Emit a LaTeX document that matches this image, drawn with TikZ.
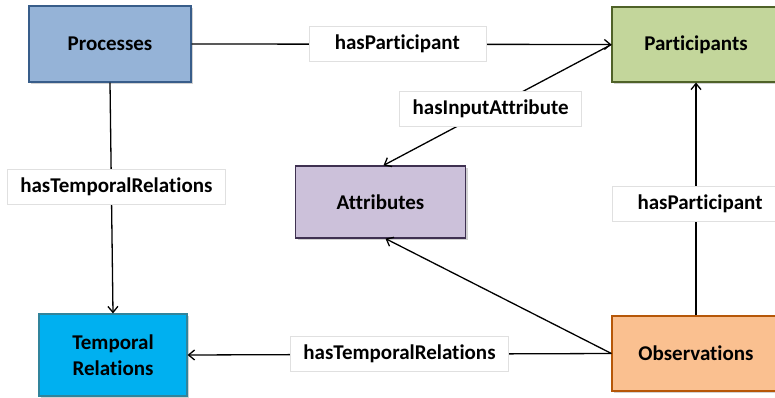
\documentclass[tikz,border=0pt]{standalone}
\usepackage{fontspec}
\setmainfont{Carlito}[Ligatures=NoCommon]
\usetikzlibrary{arrows.meta,shadows}
\definecolor{procfill}{HTML}{95B3D7}
\definecolor{procline}{HTML}{385D8A}
\definecolor{partfill}{HTML}{C3D69B}
\definecolor{partline}{HTML}{4F6228}
\definecolor{attrfill}{HTML}{CCC1DA}
\definecolor{attrline}{HTML}{3F3151}
\definecolor{tempfill}{HTML}{00B0F0}
\definecolor{templine}{HTML}{31849B}
\definecolor{obsfill}{HTML}{FAC090}
\definecolor{obsline}{HTML}{B65708}
\tikzset{
	cls/.style={draw, line width=1.2pt, align=center, font=\fontsize{21}{26}\selectfont\bfseries,
		drop shadow={shadow xshift=2pt, shadow yshift=-2pt, opacity=0.35}},
	lbl/.style={draw=black!12, fill=white, line width=0.6pt, font=\fontsize{21}{24}\selectfont\bfseries,
		minimum height=35pt, inner xsep=13pt},
	arr/.style={line width=1.3pt, -{Straight Barb[length=6pt,width=10pt,line width=1.3pt]}}
}
\begin{document}
\begin{tikzpicture}[x=1pt,y=-1pt]
					\clip (0,0) rectangle (775,398);
					\fill[white] (0,0) rectangle (775,398);
					\node[cls, fill=procfill, draw=procline, minimum width=162pt, minimum height=76pt] (proc) at (110,44) {Processes};
					\node[cls, fill=partfill, draw=partline, minimum width=168pt, minimum height=75pt] (part) at (696,44.5) {Participants};
					\node[cls, fill=attrfill, draw=attrline, minimum width=170pt, minimum height=72pt] (attr) at (380.5,202) {Attributes};
					\node[cls, fill=tempfill, draw=templine, minimum width=148pt, minimum height=82pt] (temp) at (113,355) {Temporal\\Relations};
					\node[cls, fill=obsfill, draw=obsline, minimum width=168pt, minimum height=75pt] (obs) at (696,353.5) {Observations};
					\path[arr]
					(proc.east) edge node[lbl, pos=0.49, minimum width=177pt] {hasParticipant} (part.west)
					(part.west) edge node[lbl, pos=0.53] {hasInputAttribute} ([xshift=3pt]attr.north)
					(proc.south) edge node[lbl, pos=0.45, xshift=5pt] {hasTemporalRelations} (temp.north)
					(obs.west) edge node[lbl, pos=0.5] {hasTemporalRelations} (temp.east)
					(obs.west) edge ([xshift=5pt]attr.south)
					(obs.north) edge node[lbl, pos=0.48, xshift=4pt, minimum width=175pt] {hasParticipant} (part.south);
				\end{tikzpicture}
\end{document}
